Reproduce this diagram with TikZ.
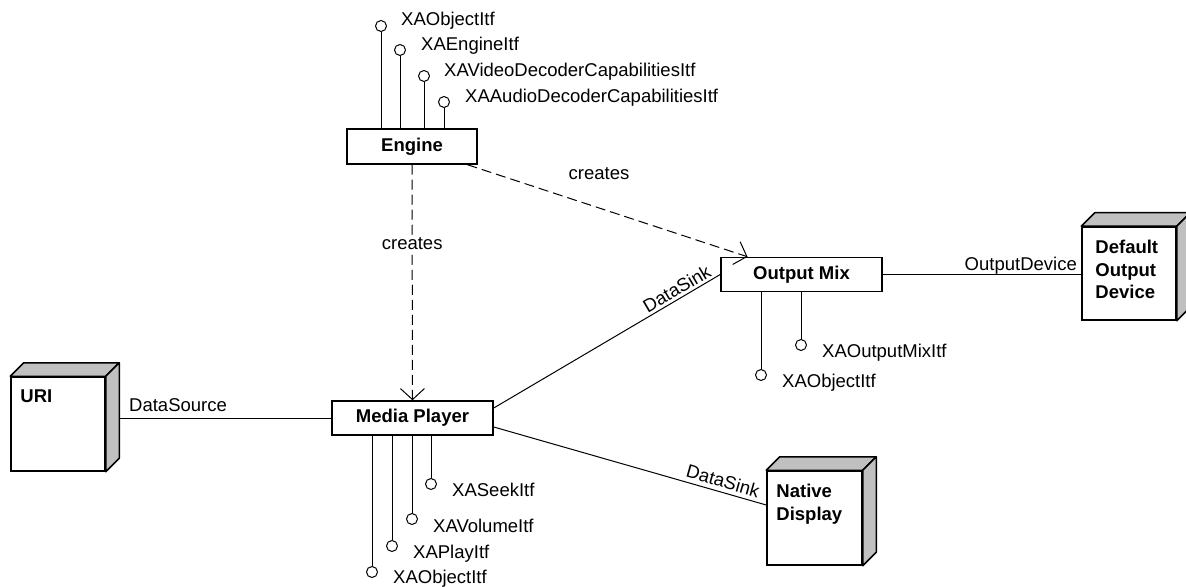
\documentclass[tikz,border=0pt]{standalone}
\usepackage{fontspec}
\setmainfont{Liberation Sans}
\usetikzlibrary{arrows.meta}

\definecolor{devgray}{RGB}{192,192,192}

\tikzset{
  lbl/.style={font=\fontsize{18.5bp}{22.5bp}\selectfont, inner sep=0pt},
  compbox/.style={draw, line width=1.5bp, fill=white, minimum width=161bp,
    minimum height=34bp, inner sep=0pt,
    font=\fontsize{18.5bp}{22.5bp}\selectfont\bfseries},
  devfront/.style={draw, line width=1.5bp, fill=white, minimum width=94bp,
    minimum height=94bp, inner sep=0pt},
  devface/.style={draw, line width=1.5bp, fill=devgray, line join=round},
  devtext/.style={lbl, font=\fontsize{18.5bp}{22.5bp}\selectfont\bfseries,
    align=left, anchor=north west},
  lolly/.style={circle, draw, line width=1bp, fill=white, minimum size=11bp,
    inner sep=0pt},
  conn/.style={line width=1bp},
  creates/.style={conn, dash pattern=on 10bp off 5bp,
    -{Straight Barb[length=11bp,width=24bp]}},
}

\begin{document}
\begin{tikzpicture}[x=1bp, y=-1bp]
\useasboundingbox (0,0) rectangle (1186,587);

% components
\node[compbox, minimum width=130bp, minimum height=35bp] (eng) at (412,146.5) {Engine};
\node[compbox] (mp) at (412.5,418) {Media Player};
\node[compbox] (om) at (801.5,274.5) {Output Mix};

% devices (front faces)
\node[devfront] (uri) at (58,424) {};
\node[devfront, minimum width=95bp] (nd) at (814.5,518) {};
\node[devfront, minimum height=93bp] (dod) at (1129,273.5) {};

% top and side faces of the devices
\foreach \n in {uri,nd,dod}{
  \filldraw[devface] (\n.north west) -- ++(13.5,-13.5)
    -- ([shift={(13.5,-13.5)}]\n.north east) -- (\n.north east) -- cycle;
  \filldraw[devface] (\n.north east) -- ([shift={(13.5,-13.5)}]\n.north east)
    -- ([shift={(13.5,-13.5)}]\n.south east) -- (\n.south east) -- cycle;
}

\node[devtext] (urit) at ([xshift=10bp,yshift=-13.5bp]uri.north west) {URI};
\node[devtext] (ndt) at ([xshift=10bp,yshift=-14bp]nd.north west) {Native\\Display};
\node[devtext] (dodt) at ([xshift=14bp,yshift=-14bp]dod.north west) {Default\\Output\\Device};

% creation dependencies
\draw[creates] (eng) -- node[lbl, fill=white, inner ysep=2bp, pos=0.335] (c1) {creates} (mp);
\draw[creates] (eng) -- (om);
\node[lbl, anchor=base] (c2) at (599,179.5) {creates};

% associations
\coordinate (urib) at ([xshift=13.5bp]uri.east);
\draw[conn] (mp.west) -- (mp.west -| urib);
\node[lbl, anchor=base west] (dsrc) at (129,411) {DataSource};

\draw[conn] ([yshift=10bp]mp.east) -- node[lbl, sloped, anchor=south, inner sep=2.5bp, pos=0.83] (ds1) {DataSink} (om.west);
\draw[conn] ([yshift=-9bp]mp.east) -- node[lbl, sloped, anchor=south, inner sep=4bp, pos=0.83] (ds2) {DataSink} ([yshift=13bp]nd.west);

\draw[conn] (om.east) -- (om.east -| dod.west);
\node[lbl, anchor=base east] (odev) at (1077,270.5) {OutputDevice};

% Engine interfaces
\node[lolly] (e1) at (381,26) {};
\node[lolly] (e2) at (400,50) {};
\node[lolly] (e3) at (424,76) {};
\node[lolly] (e4) at (444,102) {};
\foreach \c in {e1,e2,e3,e4} \draw[conn] (\c) -- (\c |- eng.north);
\node[lbl, anchor=base west] at (401,25.5) {XAObjectItf};
\node[lbl, anchor=base west] at (421,51) {XAEngineItf};
\node[lbl, anchor=base west] at (444,77) {XAVideoDecoderCapabilitiesItf};
\node[lbl, anchor=base west] at (465,102.5) {XAAudioDecoderCapabilitiesItf};

% Media Player interfaces
\node[lolly] (m1) at (431,484) {};
\node[lolly] (m2) at (412,519) {};
\node[lolly] (m3) at (392,546) {};
\node[lolly] (m4) at (372,572) {};
\foreach \c in {m1,m2,m3,m4} \draw[conn] (\c) -- (\c |- mp.south);
\node[lbl, anchor=base west] at (452,496.5) {XASeekItf};
\node[lbl, anchor=base west] at (433,532) {XAVolumeItf};
\node[lbl, anchor=base west] at (413,558) {XAPlayItf};
\node[lbl, anchor=base west] at (393,583) {XAObjectItf};

% Output Mix interfaces
\node[lolly] (o1) at (801,345) {};
\node[lolly] (o2) at (761,375) {};
\foreach \c in {o1,o2} \draw[conn] (\c) -- (\c |- om.south);
\node[lbl, anchor=base west] at (822,357) {XAOutputMixItf};
\node[lbl, anchor=base west] at (782,387) {XAObjectItf};
\end{tikzpicture}
\end{document}
